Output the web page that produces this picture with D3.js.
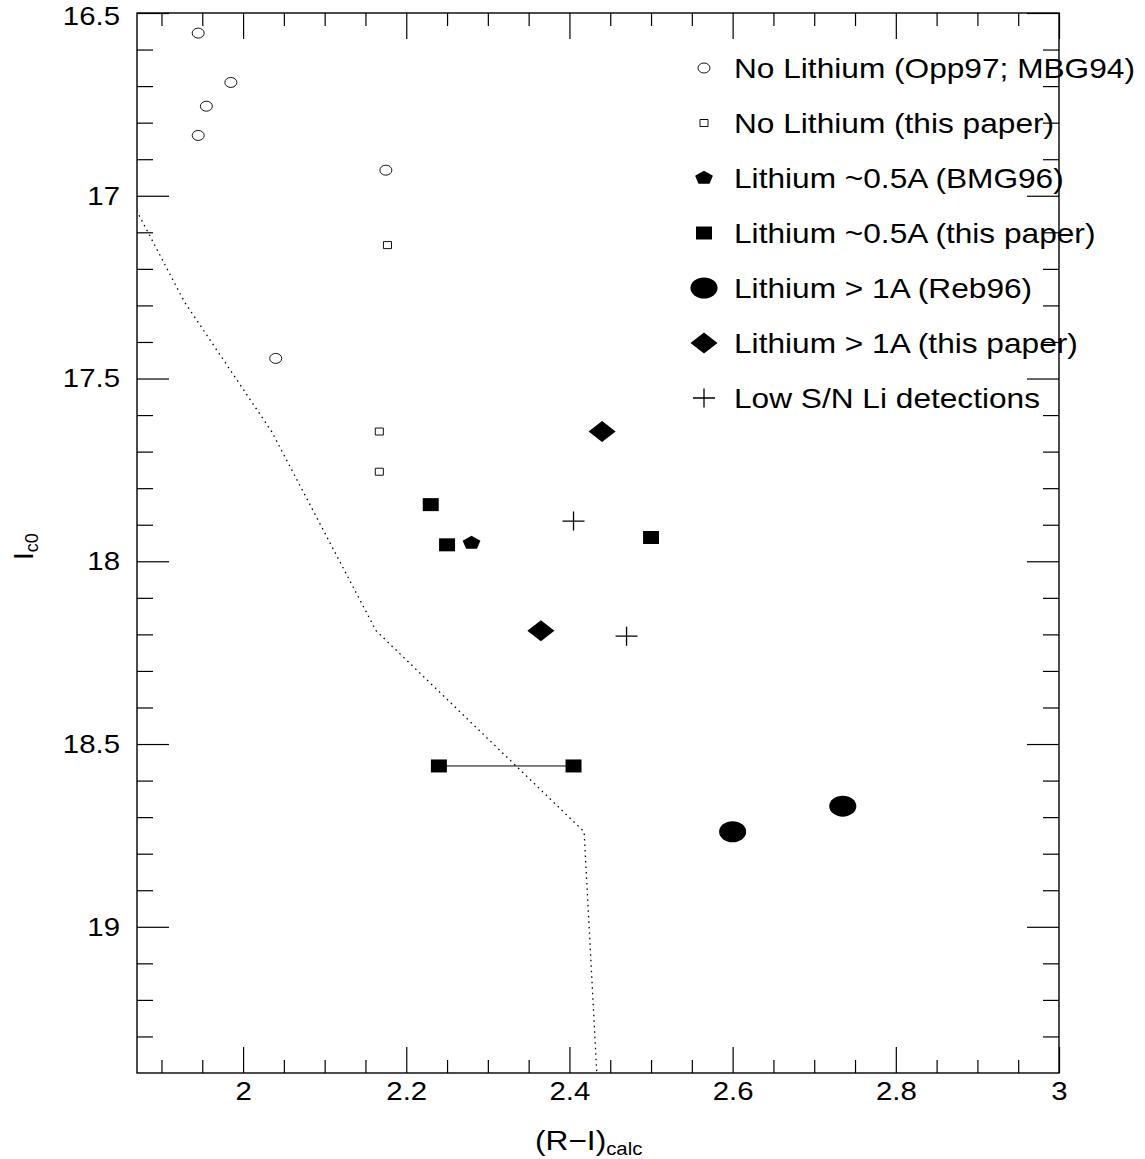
<!DOCTYPE html>
<html>
<head>
<meta charset="utf-8">
<script src="https://cdn.jsdelivr.net/npm/d3@7"></script>
<style>
body { margin: 0; background: #fff; }
text { font-family: "Liberation Sans", Arial, sans-serif; fill: #000; }
</style>
</head>
<body>
<div id="chart"></div>
<script>
// axis ranges and ticks
const xDomain = [1.87, 3.0];
const yDomain = [16.5, 19.4];
const xMajor = [2, 2.2, 2.4, 2.6, 2.8, 3];
const xMinor = [1.9, 1.95, 2.05, 2.1, 2.15, 2.25, 2.3, 2.35, 2.45, 2.5, 2.55, 2.65, 2.7, 2.75, 2.85, 2.9, 2.95];
const yMajor = [16.5, 17, 17.5, 18, 18.5, 19];
const yMinor = [16.6, 16.7, 16.8, 16.9, 17.1, 17.2, 17.3, 17.4, 17.6, 17.7, 17.8, 17.9,
                18.1, 18.2, 18.3, 18.4, 18.6, 18.7, 18.8, 18.9, 19.1, 19.2, 19.3];

// data: [ (R-I)calc, Ic0 ]
const noLiOld   = [[1.945, 16.555], [1.985, 16.69], [1.955, 16.755], [1.945, 16.835], [2.175, 16.93], [2.04, 17.445]];
const noLiNew   = [[2.177, 17.135], [2.167, 17.645], [2.167, 17.755]];
const liHalfOld = [[2.28, 17.95]];
const liHalfNew = [[2.23, 17.845], [2.25, 17.955], [2.50, 17.935], [2.24, 18.56], [2.405, 18.56]];
const liHalfPair = [[2.24, 18.56], [2.405, 18.56]];
const liOneOld  = [[2.60, 18.74], [2.735, 18.67]];
const liOneNew  = [[2.44, 17.645], [2.365, 18.19]];
const lowSN     = [[2.405, 17.89], [2.47, 18.205]];
const isochrone = [[1.86, 17.0], [1.928, 17.29], [2.035, 17.645], [2.163, 18.19], [2.418, 18.74], [2.434, 19.42]];

const legendLabels = [
  'No Lithium (Opp97; MBG94)',
  'No Lithium (this paper)',
  'Lithium ~0.5A (BMG96)',
  'Lithium ~0.5A (this paper)',
  'Lithium > 1A (Reb96)',
  'Lithium > 1A (this paper)',
  'Low S/N Li detections'
];

const W = 1145, H = 1159;
const svg = d3.select('#chart').append('svg').attr('width', W).attr('height', H);

const x = d3.scaleLinear().domain(xDomain).range([137, 1059]);
const y = d3.scaleLinear().domain(yDomain).range([13, 1073]);

// widen text a bit, the original font is broader than Helvetica
function stretch(sel, k) {
  sel.each(function() {
    const w = this.getComputedTextLength();
    d3.select(this).attr('textLength', w * k).attr('lengthAdjust', 'spacingAndGlyphs');
  });
}

function addAxis(axisFn, scale, vals, size, pad, labels, tr) {
  const g = svg.append('g')
    .attr('transform', tr)
    .call(axisFn(scale).tickValues(vals).tickSize(size).tickPadding(pad)
      .tickFormat(labels ? d3.format('') : ''));
  // axis() sets its own font, override after the call
  g.attr('font-size', 26).attr('font-family', '"Liberation Sans", Arial, sans-serif');
  g.select('.domain').remove();
  g.selectAll('line').attr('stroke', '#000').attr('stroke-width', 1.2);
  g.selectAll('text').attr('fill', '#000');
  if (labels) stretch(g.selectAll('text'), 1.13);
  return g;
}

// bottom + top
addAxis(d3.axisBottom, x, xMajor, -26, 9, true, 'translate(0,1073)');
addAxis(d3.axisBottom, x, xMinor, -13, 9, false, 'translate(0,1073)');
addAxis(d3.axisTop, x, xMajor, -26, 10, false, 'translate(0,13)');
addAxis(d3.axisTop, x, xMinor, -13, 10, false, 'translate(0,13)');
// left + right
const yAxisLeft = addAxis(d3.axisLeft, y, yMajor, -32, 17, true, 'translate(137,0)');
addAxis(d3.axisLeft, y, yMinor, -16, 17, false, 'translate(137,0)');
addAxis(d3.axisRight, y, yMajor, -32, 10, false, 'translate(1059,0)');
addAxis(d3.axisRight, y, yMinor, -16, 10, false, 'translate(1059,0)');
// top label sits on the page edge, nudge it down a touch
yAxisLeft.selectAll('.tick').filter(d => d === yDomain[0]).select('text').attr('y', 3);

// frame
svg.append('rect')
  .attr('x', 137).attr('y', 13)
  .attr('width', 1059 - 137).attr('height', 1073 - 13)
  .attr('fill', 'none').attr('stroke', '#000').attr('stroke-width', 1.4);

// axis titles
const xt = svg.append('text').attr('x', 535).attr('y', 1150).attr('font-size', 28);
xt.append('tspan').text('(R\u2212I)');
xt.append('tspan').attr('font-size', 18).attr('dy', 5).text('calc');
stretch(xt, 1.13);

const yt = svg.append('text')
  .attr('transform', 'translate(33,560) rotate(-90)')
  .attr('font-size', 28);
yt.append('tspan').text('I');
yt.append('tspan').attr('font-size', 18).attr('dy', 5).text('c0');

// clip for the model line
svg.append('clipPath').attr('id', 'plot-clip')
  .append('rect').attr('x', 137).attr('y', 13).attr('width', 922).attr('height', 1060);

svg.append('path')
  .datum(isochrone)
  .attr('clip-path', 'url(#plot-clip)')
  .attr('d', d3.line().x(d => x(d[0])).y(d => y(d[1])))
  .attr('fill', 'none')
  .attr('stroke', '#000')
  .attr('stroke-width', 1.3)
  .attr('stroke-dasharray', '1.5,4');

// custom shapes
const pentagon = {
  draw(ctx, size) {
    const r = Math.sqrt(size / 2.378);
    for (let i = 0; i < 5; i++) {
      const a = -Math.PI / 2 + i * 2 * Math.PI / 5;
      const px = r * Math.cos(a), py = r * Math.sin(a);
      if (i === 0) ctx.moveTo(px, py); else ctx.lineTo(px, py);
    }
    ctx.closePath();
  }
};
const diamond = {
  draw(ctx, size) {
    const r = Math.sqrt(size / 2);
    ctx.moveTo(0, -r); ctx.lineTo(r, 0); ctx.lineTo(0, r); ctx.lineTo(-r, 0);
    ctx.closePath();
  }
};
const plus = {
  draw(ctx, size) {
    const r = Math.sqrt(size) / 2;
    ctx.moveTo(-r, 0); ctx.lineTo(r, 0);
    ctx.moveTo(0, -r * 0.86); ctx.lineTo(0, r * 0.86);
  }
};

// marker styles, one per legend row
const styles = [
  {type: d3.symbolCircle, size: Math.PI * 25, sx: 1.2, sy: 1, fill: 'none', stroke: 1},
  {type: d3.symbolSquare, size: 49, sx: 1.15, sy: 1, fill: 'none', stroke: 1},
  {type: pentagon, size: 2.378 * 72, sx: 1.1, sy: 0.85, fill: '#000', stroke: 0},
  {type: d3.symbolSquare, size: 169, sx: 1.23, sy: 1, fill: '#000', stroke: 0},
  {type: d3.symbolCircle, size: Math.PI * 110, sx: 1.29, sy: 1, fill: '#000', stroke: 0},
  {type: diamond, size: 2 * 110, sx: 1.29, sy: 1, fill: '#000', stroke: 0},
  {type: plus, size: 22 * 22, sx: 1, sy: 1, fill: 'none', stroke: 1.3}
];
const groups = [noLiOld, noLiNew, liHalfOld, liHalfNew, liOneOld, liOneNew, lowSN];

function drawMarkers(g, pts, st) {
  g.selectAll(null).data(pts).enter().append('path')
    .attr('d', d3.symbol(st.type, st.size))
    .attr('transform', d => `translate(${d[0]},${d[1]}) scale(${st.sx},${st.sy})`)
    .attr('fill', st.fill)
    .attr('stroke', st.stroke ? '#000' : 'none')
    .attr('stroke-width', st.stroke ? st.stroke / Math.max(st.sx, st.sy) : 0);
}

// connecting line between the two squares
svg.append('line')
  .attr('x1', x(liHalfPair[0][0])).attr('x2', x(liHalfPair[1][0]))
  .attr('y1', y(liHalfPair[0][1])).attr('y2', y(liHalfPair[1][1]))
  .attr('stroke', '#000').attr('stroke-width', 1);

const pointsGroup = svg.append('g');
groups.forEach((pts, i) => {
  drawMarkers(pointsGroup, pts.map(d => [x(d[0]), y(d[1])]), styles[i]);
});

// legend
const legend = svg.append('g');
legendLabels.forEach((lab, i) => {
  const ly = 68 + i * 55;
  drawMarkers(legend, [[704, ly]], styles[i]);
  const t = legend.append('text')
    .attr('x', 734).attr('y', ly).attr('dy', '0.36em')
    .attr('font-size', 28)
    .text(lab);
  stretch(t, 1.13);
});
</script>
</body>
</html>
